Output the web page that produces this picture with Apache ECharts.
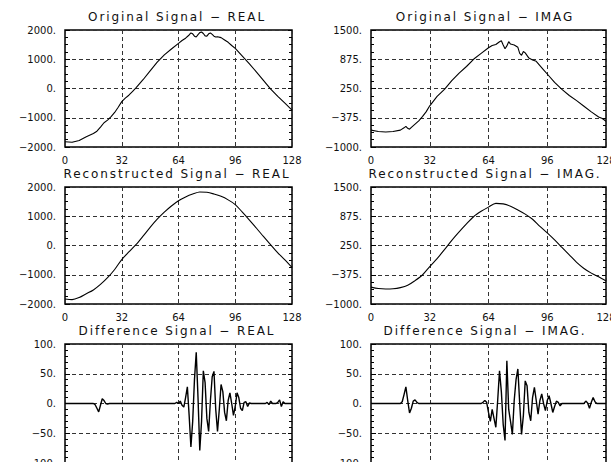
<!DOCTYPE html>
<html><head><meta charset="utf-8">
<script src="https://cdn.jsdelivr.net/npm/echarts@6/dist/echarts.min.js"></script>
<style>
html,body{margin:0;padding:0;background:#fff;}
#c{width:611px;height:462px;}
#c svg text[style*="12px"]{letter-spacing:1.9px;}
</style></head><body><div id="c"></div>
<script>
// ---- sample positions ----
const xTicks = [0, 32, 64, 96, 128];
const xTickLabels = ['0', '32', '64', '96', '128'];

// ---- Original signal, real part ----
const origRealIdx = [0,4,8,12,16,18,20,22,24,26,28,30,32,34,36,38,40,44,48,52,56,60,64,66,68,70,71,72,73,74,75,76,77,78,79,80,81,82,83,84,85,86,88,90,92,94,96,100,104,108,112,116,120,124,128];
const origRealVal = [-1820,-1840,-1780,-1650,-1540,-1460,-1320,-1170,-1080,-960,-820,-640,-450,-330,-230,-110,20,300,600,900,1150,1350,1545,1640,1720,1830,1900,1870,1790,1760,1840,1910,1930,1880,1800,1790,1870,1900,1850,1790,1760,1770,1740,1660,1580,1470,1370,1110,840,560,270,-20,-270,-500,-740];

// ---- Original signal, imaginary part ----
const origImagIdx = [0,4,8,12,16,18,19,20,21,22,24,26,28,30,32,34,36,40,44,48,52,56,60,64,66,68,70,71,72,73,74,75,76,78,80,81,82,83,84,86,88,90,92,94,96,100,104,108,112,116,120,124,126,128];
const origImagVal = [-640,-670,-680,-670,-640,-590,-560,-600,-620,-580,-510,-440,-350,-250,-120,-20,80,230,420,580,720,880,1000,1120,1170,1190,1250,1270,1180,1100,1160,1250,1200,1180,1130,1000,960,1040,1010,900,860,830,740,650,560,380,230,100,-10,-130,-250,-360,-390,-450];

// ---- Reconstructed signal ----
const reconIdx = [0,4,8,12,16,20,24,28,32,36,40,44,48,52,56,60,64,68,72,76,80,84,88,92,96,100,104,108,112,116,120,124,128];
const reconRealVal = [-1830,-1850,-1780,-1650,-1520,-1330,-1100,-820,-480,-220,30,320,620,900,1140,1350,1530,1660,1760,1830,1820,1760,1680,1560,1400,1140,870,590,300,20,-250,-490,-750];
const reconImagVal = [-640,-670,-680,-675,-650,-600,-500,-380,-200,-30,160,360,540,710,870,980,1070,1150,1140,1090,1010,920,810,660,520,370,210,50,-110,-240,-340,-420,-510];

// ---- Difference signal (one value per sample 0..128) ----
const diffRealVal = [
  0,0,0,0,0,0,0,0,0,0,0,0,0,0,0,0,
  0,-2,-8,-14,-3,8,5,0,-1,0,0,0,0,0,0,0,
  0,0,0,0,0,0,0,0,0,0,0,0,0,0,0,0,
  0,0,0,0,0,0,0,0,0,0,0,0,0,0,0,2,
  0,4,-3,-6,10,28,-20,-73,-30,40,86,10,-79,-30,55,35,
  -25,-47,5,45,54,-10,-47,-10,32,20,-15,-29,5,18,0,-20,
  -5,18,10,-8,-12,2,3,-5,1,0,0,0,0,0,0,0,
  0,0,2,-2,4,0,0,0,2,6,-5,3,0,0,0,0,
  0];
const diffImagVal = [
  0,0,0,0,0,0,0,0,0,0,0,0,0,0,0,0,
  0,3,15,28,5,-16,-8,4,6,2,0,0,0,0,0,0,
  0,0,0,0,0,0,0,0,0,0,0,0,0,0,0,0,
  0,0,0,0,0,0,0,0,0,0,0,0,0,2,5,2,
  -15,-30,-10,-25,-40,5,55,20,-35,-62,72,-10,-30,-52,5,40,
  58,0,-52,-20,38,30,-15,-29,10,27,5,-18,5,16,0,-12,
  5,13,0,-15,-5,4,2,-4,0,0,0,0,0,0,0,0,
  0,0,0,0,0,4,1,-8,2,10,3,0,0,0,0,0,
  0];

// ---- y tick labels ----
const realTicks = [-2000, -1000, 0, 1000, 2000];
const realTickLabels = ['\u22122000.', '\u22121000.', '0.', '1000.', '2000.'];
const imagTicks = [-1000, -375, 250, 875, 1500];
const imagTickLabels = ['\u22121000.', '\u2212375.', '250.', '875.', '1500.'];
const diffTicks = [-100, -50, 0, 50, 100];
const diffTickLabels = ['\u2212100.', '\u221250.', '0.', '50.', '100.'];

const titles = [
  'Original Signal \u2212 REAL', 'Original Signal \u2212 IMAG',
  'Reconstructed Signal \u2212 REAL', 'Reconstructed Signal \u2212 IMAG.',
  'Difference Signal \u2212 REAL', 'Difference Signal \u2212 IMAG.'
];

function pairs(xs, ys) { return ys.map((v, i) => [xs[i], v]); }
function seq(ys) { return ys.map((v, i) => [i, v]); }

const panels = [
  {data: pairs(origRealIdx, origRealVal), ticks: realTicks, labels: realTickLabels, minor: 4, smooth: false, w: 1.1},
  {data: pairs(origImagIdx, origImagVal), ticks: imagTicks, labels: imagTickLabels, minor: 4, smooth: false, w: 1.1},
  {data: pairs(reconIdx, reconRealVal), ticks: realTicks, labels: realTickLabels, minor: 4, smooth: 0.3, w: 1.1},
  {data: pairs(reconIdx, reconImagVal), ticks: imagTicks, labels: imagTickLabels, minor: 4, smooth: 0.3, w: 1.1},
  {data: seq(diffRealVal), ticks: diffTicks, labels: diffTickLabels, minor: 5, smooth: false, w: 1.4},
  {data: seq(diffImagVal), ticks: diffTicks, labels: diffTickLabels, minor: 5, smooth: false, w: 1.4}
];

const cols = [{left: 65, width: 227, center: 177}, {left: 371, width: 235, center: 485}];
const rowTops = [30, 187, 344];
const rowHeights = [117, 117, 119];
const showXLabels = [true, true, false]; // bottom row's x labels fall below the picture
const FONT = 'DejaVu Sans';
const gridLine = {show: true, lineStyle: {color: '#333', width: 1, type: [4, 3]}};

const option = {
  backgroundColor: '#fff',
  animation: false,
  title: [], grid: [], xAxis: [], yAxis: [], series: []
};

panels.forEach((p, k) => {
  const col = cols[k % 2], r = Math.floor(k / 2), top = rowTops[r];
  const step = p.ticks[1] - p.ticks[0];
  const yMin = p.ticks[0], yMax = p.ticks[p.ticks.length - 1];
  option.title.push({
    text: titles[k], left: col.center, top: top - 19, textAlign: 'center', padding: 0,
    textStyle: {fontFamily: FONT, fontSize: 12, fontWeight: 'normal', color: '#111'}
  });
  option.grid.push({left: col.left, top: top, width: col.width, height: rowHeights[r],
    show: true, borderColor: '#000', borderWidth: 1.5, containLabel: false,
    outerBoundsMode: 'none'});
  option.xAxis.push({
    type: 'value', gridIndex: k, min: 0, max: 128, interval: 32,
    axisLine: {show: false}, axisTick: {show: false},
    axisLabel: {show: showXLabels[r], fontFamily: FONT, fontSize: 10, color: '#111', margin: 8,
      formatter: v => { const j = xTicks.indexOf(v); return j >= 0 ? xTickLabels[j] : ''; }},
    splitLine: gridLine
  });
  option.yAxis.push({
    type: 'value', gridIndex: k, min: yMin, max: yMax, interval: step, position: 'left',
    axisLine: {show: false},
    axisTick: {show: true, inside: true, length: 5, lineStyle: {color: '#000'}},
    minorTick: {show: true, splitNumber: p.minor, length: 3, lineStyle: {color: '#000'}},
    axisLabel: {fontFamily: FONT, fontSize: 10, color: '#111', margin: 9,
      formatter: v => { const j = p.ticks.indexOf(v); return j >= 0 ? p.labels[j] : ''; }},
    splitLine: gridLine
  });
  option.yAxis.push({
    type: 'value', gridIndex: k, min: yMin, max: yMax, interval: step, position: 'right',
    axisLine: {show: false},
    axisTick: {show: true, inside: true, length: 4, lineStyle: {color: '#000'}},
    minorTick: {show: true, splitNumber: p.minor, length: 3, lineStyle: {color: '#000'}},
    axisLabel: {show: false}, splitLine: {show: false}
  });
  option.series.push({
    type: 'line', xAxisIndex: k, yAxisIndex: 2 * k, data: p.data,
    symbol: 'none', smooth: p.smooth,
    lineStyle: {color: '#000', width: p.w}
  });
});

const chart = echarts.init(document.getElementById('c'), null, {renderer: 'svg'});
chart.setOption(option);
</script>
</body></html>
